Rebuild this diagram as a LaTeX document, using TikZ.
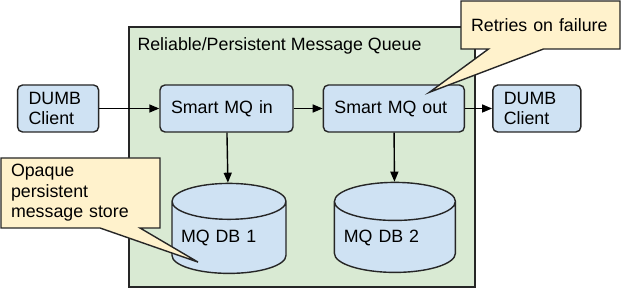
\documentclass[tikz,border=0pt]{standalone}
\usepackage{fontspec}
\setmainfont{Liberation Sans}
\usepackage{tikz}
\usetikzlibrary{arrows.meta,positioning,calc,shapes.geometric,shapes.callouts}

\definecolor{qgreen}{HTML}{D9EAD3}
\definecolor{boxblue}{HTML}{CFE2F3}
\definecolor{noteyellow}{HTML}{FFF2CC}

\begin{document}
\begin{tikzpicture}[
      x=1pt, y=-1pt,
      font=\fontsize{17.8}{20.5}\selectfont,
      node distance=29pt and 29pt,
      % Reusable styles
      queue/.style={
        draw=black!85,
        fill=qgreen,
        line width=1.4pt,
        minimum width=346pt,
        minimum height=260pt
      },
      box/.style={
        draw=black!85,
        fill=boxblue,
        line width=1.4pt,
        rounded corners=5pt,
        align=left,
        inner xsep=11pt,
        inner ysep=0pt,
        minimum height=47pt
      },
      db/.style={
        cylinder,
        shape border rotate=90,
        aspect=0.35,
        draw=black!85,
        fill=boxblue,
        line width=1.4pt,
        minimum height=90pt,
        text depth=9pt,
        align=left
      },
      note/.style={
        rectangle callout,
        draw=black!85,
        fill=noteyellow,
        line width=1.4pt,
        align=left,
        inner xsep=10pt
      },
      arrow/.style={-{Triangle[length=10pt,width=8pt]}, line width=1.4pt, draw=black}
    ]
    \useasboundingbox (0,0) rectangle (622,288);

    % Queue frame
    \node[queue] (queue) at (302,157) {};
    \node[anchor=west, inner sep=0pt] (title) at ($(queue.north west)+(9,20)$) {Reliable/Persistent Message Queue};

    % Nodes
    \node[box, text width=111pt] (mqin) at (226.5,108.5) {Smart MQ in};
    \node[box, text width=119pt, right=of mqin] (mqout) {Smart MQ out};
    \node[box, text width=59pt, left=60pt of mqin] (client) {DUMB\\Client};
    \node[box, text width=66pt, right=27pt of mqout] (sink) {DUMB\\Client};

    \node[db, text width=96pt, minimum width=114pt, below=50pt of mqin, xshift=2.5pt] (db1) {MQ DB 1};
    \node[db, text width=102pt, minimum width=121pt, below=49pt of mqout, xshift=1pt] (db2) {MQ DB 2};

    % Edges
    \draw[arrow] (client) -- (mqin);
    \draw[arrow] (mqin) -- (mqout);
    \draw[arrow] (mqout) -- (sink);
    \draw[arrow] (mqin) -- (db1);
    \draw[arrow] (mqout) -- (db2);

    % Notes
    \node[note, minimum width=159pt, minimum height=48pt, text width=139pt,
      callout absolute pointer={($(mqout.north)+(35.5,8)$)}, callout pointer width=55pt]
      (retry) at (540.5,25) {Retries on failure};
    \node[note, minimum width=159pt, minimum height=70pt, text width=139pt,
      callout absolute pointer={($(db1.south)+(-31,-12)$)}, callout pointer width=40pt]
      (store) at (80.5,193) {Opaque\\persistent\\message store};
  \end{tikzpicture}
\end{document}
